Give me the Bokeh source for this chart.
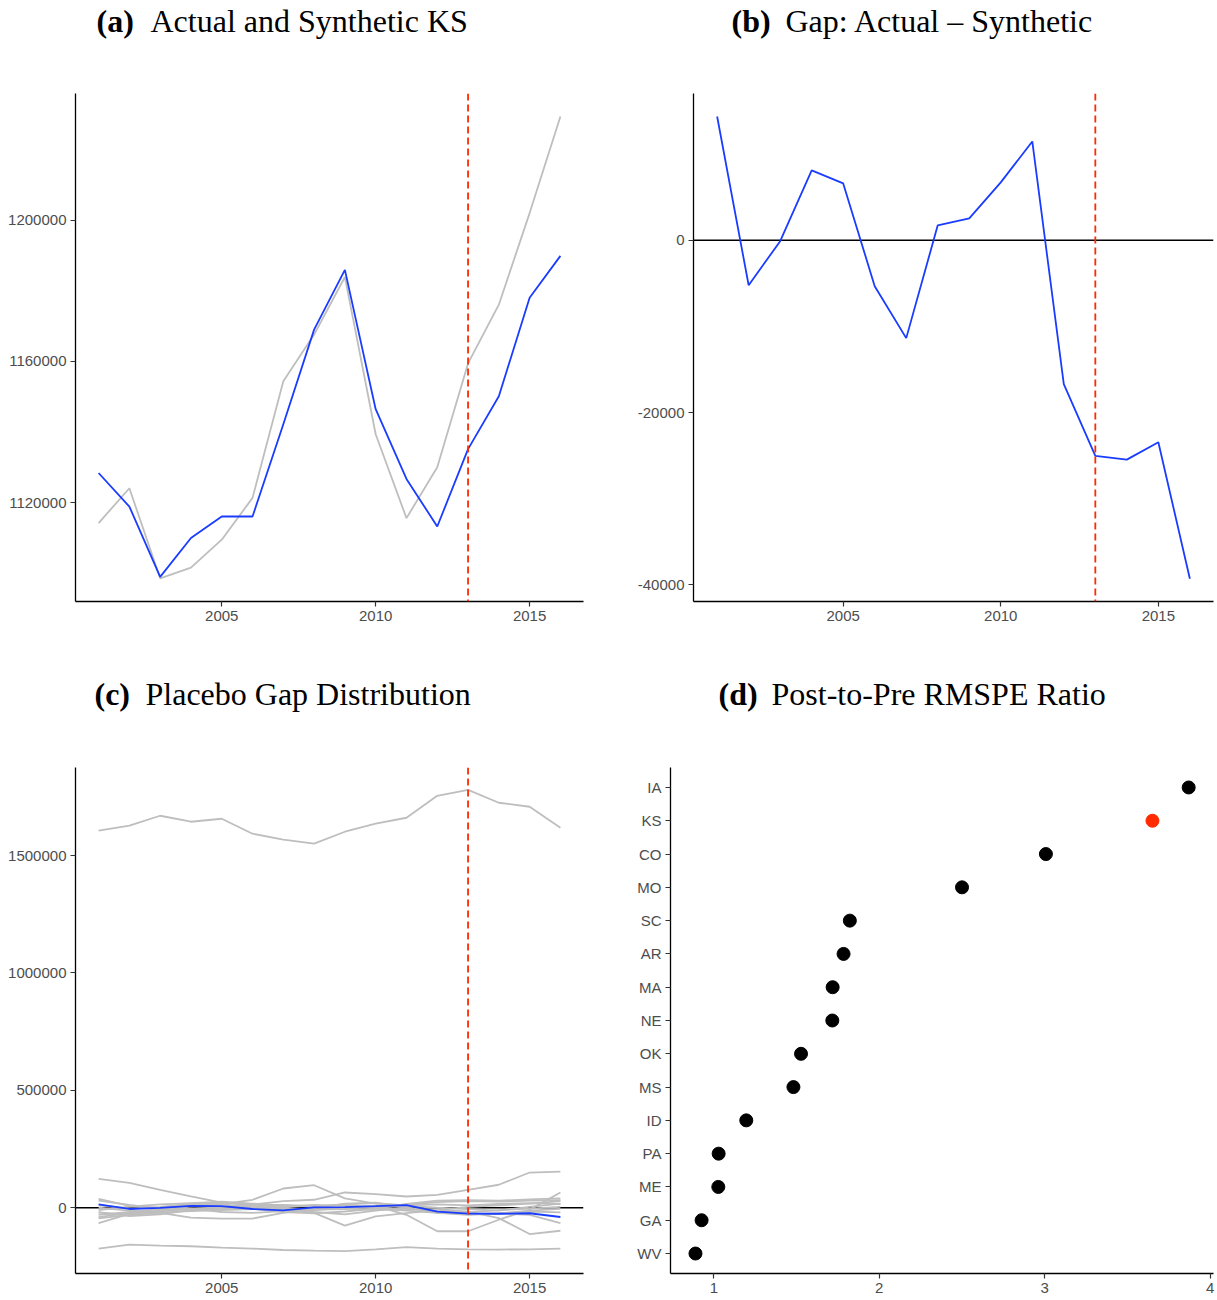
from bokeh.plotting import figure
from bokeh.layouts import column, row
from bokeh.models import (Range1d, FixedTicker, Span, CustomJSTickFormatter,
                          FactorRange, ColumnDataSource)
from bokeh.core.properties import value
from bokeh.embed import file_html
from bokeh.resources import INLINE

# ---------------- data ----------------
years = [2001, 2002, 2003, 2004, 2005, 2006, 2007, 2008,
         2009, 2010, 2011, 2012, 2013, 2014, 2015, 2016]
treat_year = 2013

ks_actual = [1128450, 1118960, 1099070, 1110060, 1116140, 1116140, 1142250, 1169000,
             1185900, 1146500, 1126760, 1113320, 1135200, 1150140, 1178030, 1189860]
ks_synthetic = [1114280, 1124140, 1098660, 1101690, 1109580, 1121410, 1154400, 1167600,
                1183900, 1139400, 1115690, 1130060, 1159440, 1176060, 1201970, 1229300]
ks_gap = [14377, -5217, -100, 8116, 6609, -5333, -11362, 1739,
          2551, 6725, 11478, -16696, -25043, -25470, -23455, -39304]

pl_01 = [1605800, 1627000, 1669500, 1644000, 1656800, 1593000, 1567500, 1550500,
         1601500, 1635500, 1661000, 1754500, 1780000, 1724800, 1707800, 1618500]
pl_02 = [-174000, -157000, -161000, -164000, -170000, -174000, -180000, -183000,
         -185000, -177000, -168000, -174000, -177000, -178000, -177000, -174000]
pl_03 = [123000, 106000, 76000, 48000, 22000, 10000, -5000, -18000,
         -28000, -12000, 2000, -22000, -30000, -25000, -12000, -5000]
pl_04 = [-20000, -30000, -12000, 8000, 15000, 34000, 82000, 96000,
         40000, 18000, 8000, 0, -6000, -12000, 4000, 18000]
pl_05 = [-40000, -22000, -15000, -6000, 4000, 14000, 28000, 34000,
         65000, 58000, 48000, 55000, 76000, 98000, 150000, 154000]
pl_06 = [30000, 12000, -4000, 12000, 22000, 14000, 2000, -22000,
         -76000, -37000, -23000, -10000, 4000, 10000, 18000, 28000]
pl_07 = [0, -12000, -20000, -14000, -10000, -6000, -4000, -10000,
         0, 8000, -30000, -100000, -100000, -51000, -8000, 65000]
pl_08 = [-10000, 5000, 14000, 20000, 26000, 18000, 10000, 6000,
         12000, 2000, -6000, -10000, -16000, -44000, -112000, -98000]
pl_09 = [38000, 8000, -2000, -10000, -6000, 0, 6000, 12000,
         8000, -4000, -12000, -22000, -26000, -24000, -30000, -65000]
pl_10 = [-45000, -30000, -22000, -42000, -46000, -46000, -22000, -6000,
         -4000, -10000, -4000, -16000, -28000, -24000, -16000, -20000]
pl_11 = [-65000, -26000, -12000, 6000, 4000, 2000, 0, -8000,
         -6000, 6000, 12000, 24000, 28000, 26000, 30000, 32000]
pl_12 = [-20000, -36000, -28000, -10000, -4000, 8000, 12000, 6000,
         14000, 20000, 10000, 14000, 10000, 16000, 20000, 16000]
pl_13 = [-30000, -18000, -6000, -4000, -18000, -22000, -14000, -2000,
         18000, 22000, 0, -14000, -20000, -10000, -4000, 4000]
pl_14 = [10000, -4000, 4000, 18000, 16000, -4000, -18000, -24000,
         -16000, -4000, 16000, 30000, 32000, 30000, 36000, 40000]
placebos = [pl_01, pl_02, pl_03, pl_04, pl_05, pl_06, pl_07,
            pl_08, pl_09, pl_10, pl_11, pl_12, pl_13, pl_14]

states = ["IA", "KS", "CO", "MO", "SC", "AR", "MA", "NE",
          "OK", "MS", "ID", "PA", "ME", "GA", "WV"]
ratios = [3.870, 3.651, 3.007, 2.500, 1.822, 1.784, 1.718, 1.716,
          1.527, 1.481, 1.196, 1.029, 1.027, 0.926, 0.889]
treated_state = "KS"

ticks_a_y = [1120000, 1160000, 1200000]
ticks_b_y = [-40000, -20000, 0]
ticks_c_y = [0, 500000, 1000000, 1500000]
ticks_year = [2005, 2010, 2015]
ticks_d_x = [1, 2, 3, 4]

title_tags = ["(a)", "(b)", "(c)", "(d)"]
title_texts = ["Actual and Synthetic KS", "Gap: Actual \u2013 Synthetic",
               "Placebo Gap Distribution", "Post-to-Pre RMSPE Ratio"]

# ---------------- style ----------------
SANS = "Liberation Sans"
SERIF = "Liberation Serif"
BLUE = "#1a3cff"
GREY = "#BEBEBE"
RED = "#FF2A00"
LW = 1.8
PLAIN = CustomJSTickFormatter(code="return tick.toString();")


def style(p, numeric_y=True):
    p.outline_line_color = None
    p.xgrid.visible = False
    p.ygrid.visible = False
    p.background_fill_color = "white"
    p.border_fill_color = "white"
    p.xaxis.formatter = PLAIN
    if numeric_y:
        p.yaxis.formatter = PLAIN
    for ax in p.axis:
        ax.axis_line_color = "black"
        ax.axis_line_width = 1.3
        ax.major_tick_line_color = "#333333"
        ax.major_tick_line_width = 1.2
        ax.major_tick_out = 5
        ax.major_tick_in = 0
        ax.minor_tick_line_color = None
        ax.major_label_text_font = SANS
        ax.major_label_text_font_size = "15px"
        ax.major_label_text_color = "#4D4D4D"
        ax.major_label_standoff = 4


def title_fig(width, height, tag, text, x_tag, x_text, y_base):
    t = figure(width=width, height=height, output_backend="svg", toolbar_location=None,
               x_range=Range1d(0, width), y_range=Range1d(0, height),
               x_axis_location=None, y_axis_location=None,
               min_border=0, outline_line_color=None)
    t.xgrid.visible = False
    t.ygrid.visible = False
    t.text(x=[x_tag], y=[y_base], text=[tag], text_font=value(SERIF),
           text_font_size="32px", text_font_style="bold",
           text_baseline="alphabetic", text_align="left", text_color="black")
    t.text(x=[x_text], y=[y_base], text=[text], text_font=value(SERIF),
           text_font_size="32px", text_font_style="normal",
           text_baseline="alphabetic", text_align="left", text_color="black")
    return t


def vline(p):
    p.add_layout(Span(location=treat_year, dimension="height", line_color=RED,
                      line_width=LW, line_dash="7 4"))


def hzero(p):
    p.add_layout(Span(location=0, dimension="width", line_color="black",
                      line_width=1.4, level="underlay"))


W_L, W_R = 608, 607
T1_H, T2_H = 50, 70           # title strip heights
TOP_H, BOT_H = 600, 578       # main figure heights
TOP_BT, TOP_BB = 43, 49
BOT_BT, BOT_BB = 47, 25
year_rng = (2000.25, 2016.75)
a_rng = (1092100, 1235800)
b_rng = (-41950, 17050)
c_rng = (-280000, 1875000)

ta = title_fig(W_L, T1_H, title_tags[0], title_texts[0], 96, 150, 30)
tb = title_fig(W_R, T1_H, title_tags[1], title_texts[1], 123, 177, 30)
tc = title_fig(W_L, T2_H, title_tags[2], title_texts[2], 94, 145, 27)
td = title_fig(W_R, T2_H, title_tags[3], title_texts[3], 110, 163, 27)

# ---- (a) ----
pa = figure(width=W_L, height=TOP_H, output_backend="svg", toolbar_location=None,
            x_range=Range1d(*year_rng), y_range=Range1d(*a_rng),
            min_border_left=75, min_border_right=25,
            min_border_top=TOP_BT, min_border_bottom=TOP_BB)
pa.line(years, ks_synthetic, line_color=GREY, line_width=LW)
pa.line(years, ks_actual, line_color=BLUE, line_width=LW)
vline(pa)
pa.xaxis.ticker = FixedTicker(ticks=ticks_year)
pa.yaxis.ticker = FixedTicker(ticks=ticks_a_y)
style(pa)

# ---- (b) ----
pb = figure(width=W_R, height=TOP_H, output_backend="svg", toolbar_location=None,
            x_range=Range1d(*year_rng), y_range=Range1d(*b_rng),
            min_border_left=85, min_border_right=2,
            min_border_top=TOP_BT, min_border_bottom=TOP_BB)
hzero(pb)
pb.line(years, ks_gap, line_color=BLUE, line_width=LW)
vline(pb)
pb.xaxis.ticker = FixedTicker(ticks=ticks_year)
pb.yaxis.ticker = FixedTicker(ticks=ticks_b_y)
style(pb)

# ---- (c) ----
pc = figure(width=W_L, height=BOT_H, output_backend="svg", toolbar_location=None,
            x_range=Range1d(*year_rng), y_range=Range1d(*c_rng),
            min_border_left=75, min_border_right=25,
            min_border_top=BOT_BT, min_border_bottom=BOT_BB)
hzero(pc)
for pl in placebos:
    pc.line(years, pl, line_color=GREY, line_width=LW)
pc.line(years, ks_gap, line_color=BLUE, line_width=LW)
vline(pc)
pc.xaxis.ticker = FixedTicker(ticks=ticks_year)
pc.yaxis.ticker = FixedTicker(ticks=ticks_c_y)
style(pc)

# ---- (d) ----
factors = list(reversed(states))
src = ColumnDataSource(dict(
    state=states, ratio=ratios,
    color=[RED if s == treated_state else "black" for s in states]))
pd_ = figure(width=W_R, height=BOT_H, output_backend="svg", toolbar_location=None,
             x_range=Range1d(0.738, 4.02),
             y_range=FactorRange(factors=factors, range_padding=0.1,
                                 range_padding_units="absolute"),
             min_border_left=62, min_border_right=2,
             min_border_top=BOT_BT, min_border_bottom=BOT_BB)
pd_.scatter(x="ratio", y="state", source=src, size=13, fill_color="color",
            line_color="color")
pd_.xaxis.ticker = FixedTicker(ticks=ticks_d_x)
style(pd_, numeric_y=False)

layout = column(row(ta, tb), row(pa, pb), row(tc, td), row(pc, pd_))
open("out.html", "w").write(file_html(layout, INLINE))
